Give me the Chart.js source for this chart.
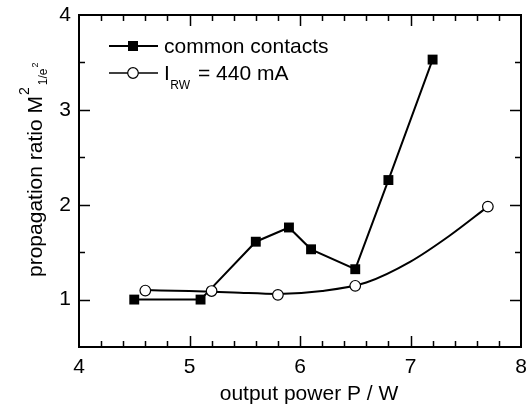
<!DOCTYPE html>
<html>
<head>
<meta charset="utf-8">
<script src="https://cdn.jsdelivr.net/npm/chart.js@4"></script>
<style>
  html, body { margin:0; padding:0; background:#fff; }
  #wrap { width:529px; height:410px; }
</style>
</head>
<body>
<div id="wrap"><canvas id="chart" width="529" height="410"></canvas></div>
<script>
// axis ticks
const xTicks = [4, 5, 6, 7, 8];
const yTicks = [1, 2, 3, 4];

// common contacts (filled squares)
const ccPower = [4.5, 5.1, 5.6, 5.9, 6.1, 6.5, 6.8, 7.2];
const ccRatio = [1.00, 1.00, 1.61, 1.76, 1.53, 1.32, 2.26, 3.53];

// I_RW = 440 mA (open circles)
const rwPower = [4.6, 5.2, 5.8, 6.5, 7.7];
const rwRatio = [1.095, 1.09, 1.05, 1.145, 1.98];

// smooth guide curve through the open circles
const fitPower = [4.6, 5.0, 5.4, 5.8, 6.2, 6.6, 7.0, 7.35, 7.7];
const fitRatio = [1.10, 1.09, 1.075, 1.06, 1.09, 1.18, 1.40, 1.67, 1.98];

const FONT = '"Liberation Sans", Arial, Helvetica, sans-serif';
const pts = (xs, ys) => xs.map((x, i) => ({ x, y: ys[i] }));

// frame, inward ticks on all four sides, titles and legend
const decor = {
  id: 'decor',
  afterDraw(chart) {
    const ctx = chart.ctx;
    const a = chart.chartArea;
    const sx = chart.scales.x, sy = chart.scales.y;
    ctx.save();
    ctx.strokeStyle = '#000';
    ctx.fillStyle = '#000';

    // ticks
    ctx.lineWidth = 1.5;
    ctx.beginPath();
    for (let i = 1; i < 20; i++) {
      const v = 4 + i * 0.2;
      const len = (i % 5 === 0) ? 11 : 6;
      const px = Math.round(sx.getPixelForValue(v)) + 0.5;
      ctx.moveTo(px, a.bottom); ctx.lineTo(px, a.bottom - len);
      ctx.moveTo(px, a.top); ctx.lineTo(px, a.top + len);
    }
    for (let i = 1; i < 7; i++) {
      const v = 0.5 + i * 0.5;
      const len = (i % 2 === 1) ? 11 : 6;
      const py = Math.round(sy.getPixelForValue(v)) + 0.5;
      ctx.moveTo(a.left, py); ctx.lineTo(a.left + len, py);
      ctx.moveTo(a.right, py); ctx.lineTo(a.right - len, py);
    }
    ctx.stroke();

    // frame
    ctx.lineWidth = 2;
    ctx.strokeRect(a.left, a.top, a.right - a.left, a.bottom - a.top);

    // x title
    ctx.font = '21px ' + FONT;
    ctx.textAlign = 'center';
    ctx.textBaseline = 'alphabetic';
    ctx.fillText('output power P / W', (a.left + a.right) / 2 + 9, 400);

    // y title with super/subscripts
    ctx.save();
    ctx.translate(42, 277);
    ctx.rotate(-Math.PI / 2);
    ctx.textAlign = 'left';
    ctx.font = '21px ' + FONT;
    const main = 'propagation ratio M';
    ctx.fillText(main, 0, 0);
    let w = ctx.measureText(main).width;
    ctx.font = '14px ' + FONT;
    ctx.fillText('2', w + 1, -13);
    w += ctx.measureText('2').width + 3;
    ctx.font = '12px ' + FONT;
    ctx.fillText('1/e', w, 5);
    w += ctx.measureText('1/e').width + 1;
    ctx.font = '9px ' + FONT;
    ctx.fillText('2', w, -4);
    ctx.restore();

    // legend
    const lx0 = 109, lx1 = 158, mx = 133;
    const r1 = 46;
    ctx.lineWidth = 2;
    ctx.beginPath(); ctx.moveTo(lx0, r1); ctx.lineTo(lx1, r1); ctx.stroke();
    ctx.fillRect(mx - 5, r1 - 5, 10, 10);
    ctx.font = '21px ' + FONT;
    ctx.textAlign = 'left';
    ctx.fillText('common contacts', 164, r1 + 7);

    const r2 = 73;
    ctx.lineWidth = 1.5;
    ctx.beginPath(); ctx.moveTo(lx0, r2); ctx.lineTo(lx1, r2); ctx.stroke();
    ctx.beginPath(); ctx.arc(mx, r2, 5.3, 0, Math.PI * 2);
    ctx.fillStyle = '#fff'; ctx.fill();
    ctx.lineWidth = 1.2; ctx.stroke();
    ctx.fillStyle = '#000';
    ctx.font = '21px ' + FONT;
    ctx.fillText('I', 164, r2 + 7);
    let tx = 164 + ctx.measureText('I').width + 0.5;
    ctx.font = '12px ' + FONT;
    ctx.fillText('RW', tx, r2 + 16);
    tx += ctx.measureText('RW').width + 2;
    ctx.font = '21px ' + FONT;
    ctx.fillText(' = 440 mA', tx, r2 + 7);

    ctx.restore();
  }
};

new Chart(document.getElementById('chart'), {
  type: 'scatter',
  data: {
    datasets: [
      {
        label: 'I_RW = 440 mA',
        data: pts(rwPower, rwRatio),
        showLine: false,
        pointStyle: 'circle',
        pointRadius: 5.3,
        pointBackgroundColor: '#fff',
        pointBorderColor: '#000',
        pointBorderWidth: 1.2
      },
      {
        label: 'common contacts',
        data: pts(ccPower, ccRatio),
        showLine: true,
        borderColor: '#000',
        borderWidth: 2,
        pointStyle: 'rect',
        pointRadius: 7,
        pointBackgroundColor: '#000',
        pointBorderColor: '#000',
        pointBorderWidth: 0
      },
      {
        label: 'fit',
        data: pts(fitPower, fitRatio),
        showLine: true,
        borderColor: '#000',
        borderWidth: 2,
        pointRadius: 0,
        cubicInterpolationMode: 'monotone'
      }
    ]
  },
  options: {
    responsive: false,
    animation: false,
    devicePixelRatio: 1,
    layout: { padding: { top: 15, right: 8, left: 0, bottom: 0 } },
    plugins: { legend: { display: false }, tooltip: { enabled: false } },
    scales: {
      x: {
        type: 'linear', min: 4, max: 8,
        afterBuildTicks: s => { s.ticks = xTicks.map(v => ({ value: v })); },
        afterFit: s => { s.height = 63; s.paddingLeft = 0; s.paddingRight = 0; },
        grid: { display: false, drawTicks: false },
        border: { display: false },
        ticks: { color: '#000', padding: 8, font: { family: FONT, size: 21 } }
      },
      y: {
        type: 'linear', min: 0.5, max: 4,
        afterBuildTicks: s => { s.ticks = yTicks.map(v => ({ value: v })); },
        afterFit: s => { s.width = 79; s.paddingTop = 0; s.paddingBottom = 0; },
        grid: { display: false, drawTicks: false },
        border: { display: false },
        ticks: { color: '#000', padding: 8, font: { family: FONT, size: 21 } }
      }
    }
  },
  plugins: [decor]
});
</script>
</body>
</html>
